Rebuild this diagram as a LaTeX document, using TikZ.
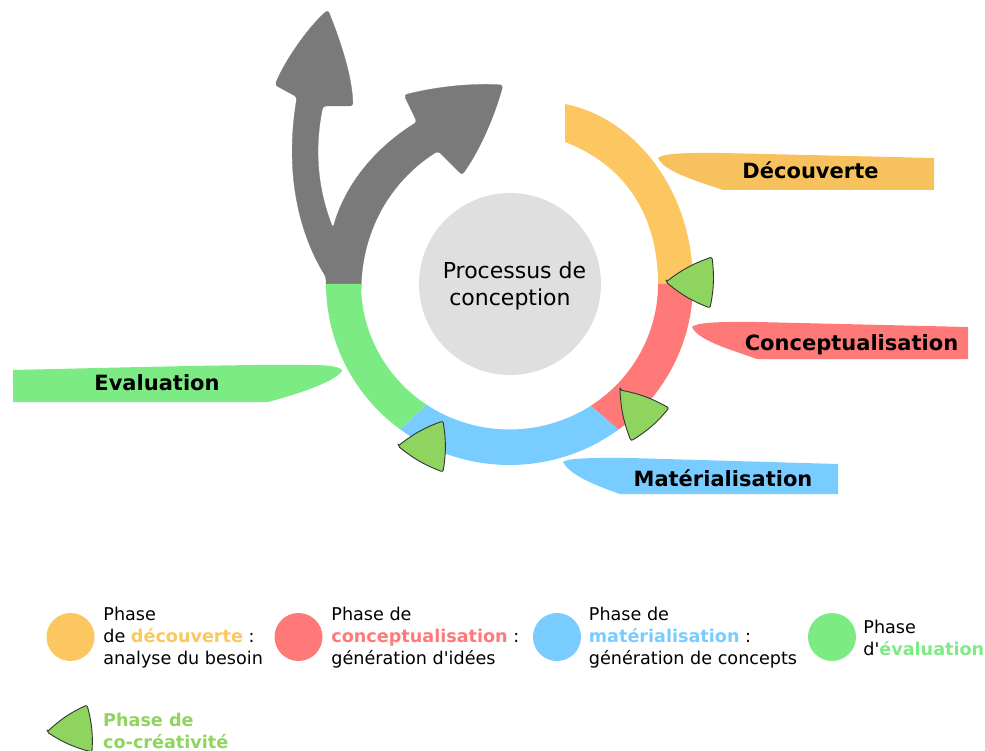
\documentclass[tikz,border=0pt]{standalone}
\usepackage{fontspec}
\setmainfont{DejaVu Sans}
\usepackage{xcolor}
\usetikzlibrary{positioning}
\definecolor{decouv}{HTML}{FCC660}
\definecolor{decouvb}{HTML}{F7C25E}
\definecolor{concep}{HTML}{FF7979}
\definecolor{mater}{HTML}{79CCFF}
\definecolor{evalu}{HTML}{7DEB83}
\definecolor{cocrea}{HTML}{8FD45F}
\definecolor{flech}{HTML}{7A7A7A}
\definecolor{fond}{HTML}{DFDFDF}
\newcommand{\cotri}[3]{\draw[tri] #1 to[bend left=9] #2 to[bend left=9] #3 to[bend left=9] cycle;}
\newcommand{\motcle}[2]{\textcolor{#1}{\textbf{#2}}}
\newcommand{\anneau}[5]{\fill[#1,shift={(509.5,284)}] (#2:183.5 and 181) arc[start angle=#2,end angle=#3,x radius=183.5,y radius=181] -- (#4:148.5 and 145.5) arc[start angle=#4,end angle=#5,x radius=148.5,y radius=145.5] -- cycle;}
\begin{document}
\begin{tikzpicture}[x=1pt,y=-1pt,node distance=6pt]
	\tikzstyle{tri}=[draw=black!80,fill=cocrea,line width=0.9pt,line join=round,rounded corners=2pt]
	\tikzstyle{fleche}=[fill=flech,draw=flech,line width=0.3pt,rounded corners=3pt]
	\tikzstyle{pastille}=[circle,inner sep=0pt,minimum size=48pt]
	\tikzstyle{legende}=[inner sep=0pt,align=left,font=\fontsize{17.6}{22}\selectfont,anchor=west,yshift=-1pt]
	\tikzstyle{titre}=[inner sep=0pt,font=\fontsize{21}{25}\selectfont\bfseries]
	\useasboundingbox (0,0) rectangle (985,751);

	\path[fleche] (361,292) -- (326,292) -- (326,277) .. controls (300,235) and (284,175) .. (297,97) -- (275,85) .. controls (285,60) and (310,25) .. (328,10) .. controls (340,40) and (352,75) .. (353,106) -- (323,106) .. controls (314,150) and (318,190) .. (333,228) .. controls (345,185) and (375,148) .. (417,122) -- (404,95) .. controls (435,87) and (470,83) .. (503,85) .. controls (495,115) and (480,150) .. (462,175) -- (438,151) .. controls (395,178) and (362,225) .. (361,292) -- cycle;

	\fill[decouv] (565,104) .. controls (635,118) and (693,190) .. (693,284) -- (658,284) .. controls (658,215) and (625,165) .. (565,142) -- cycle;
	\anneau{concep}{0}{53.6}{56.8}{0}
	\anneau{mater}{53.6}{126.6}{123.9}{56.8}
	\anneau{evalu}{126.6}{180}{180}{123.9}

	\node[fill=fond,circle,inner sep=0pt,minimum size=182pt,align=center,font=\fontsize{22}{27}\selectfont] (proc) at (510,284) {\rule{0pt}{21pt}\hspace{9pt}Processus de\\conception};

	\fill[decouvb] (658,158) .. controls (664,152) and (700,153) .. (723,153) -- (934,158) -- (934,190) -- (723,190) .. controls (700,182) and (664,172) .. (658,158) -- cycle;
	\fill[concep] (692,327) .. controls (698,321) and (735,322) .. (757,322) -- (968,327) -- (968,359) -- (757,359) .. controls (735,351) and (698,341) .. (692,327) -- cycle;
	\fill[mater] (563,462) .. controls (568,457) and (610,458) .. (630,458) -- (838,464) -- (838,494) -- (620,494) .. controls (600,487) and (570,476) .. (563,462) -- cycle;
	\fill[evalu] (13,370) .. controls (100,368) and (250,364) .. (310,365) .. controls (330,365) and (342,367) .. (342,371) .. controls (335,382) and (295,395) .. (268,402) -- (13,402) -- cycle;

	\node[titre] (t1) at (810.5,170) {Découverte};
	\node[titre] (t2) at (851.5,345) {Conceptualisation};
	\node[titre] (t3) at (723,478) {Matérialisation};
	\node[titre] (t4) at (157,383) {Evaluation};

	\cotri{(666,282)}{(712,257)}{(710,308)}
	\cotri{(620,390)}{(669,408)}{(631,441)}
	\cotri{(398,446)}{(443,421)}{(443,472)}

	\node[pastille,fill=decouv] (p1) at (70.5,637) {};
	\node[pastille,fill=concep] (p2) at (298.5,637) {};
	\node[pastille,fill=mater] (p3) at (557,637) {};
	\node[pastille,fill=evalu] (p4) at (832,637) {};
	\node[legende,right=8.5pt of p1] (l1) {Phase\\de \motcle{decouv}{découverte} :\\analyse du besoin};
	\node[legende,right=8.5pt of p2] (l2) {Phase de\\\motcle{concep}{conceptualisation} :\\génération d\textquotesingle idées};
	\node[legende,right=7.5pt of p3] (l3) {Phase de\\\motcle{mater}{matérialisation} :\\génération de concepts};
	\node[legende,right=7pt of p4] (l4) {Phase\\d\textquotesingle\motcle{evalu}{évaluation}};

	\cotri{(47,732)}{(87,705)}{(92,752)}
	\node[legende] (l5) at (103,730) {\motcle{cocrea}{Phase de}\\\motcle{cocrea}{co-créativité}};
\end{tikzpicture}
\end{document}
